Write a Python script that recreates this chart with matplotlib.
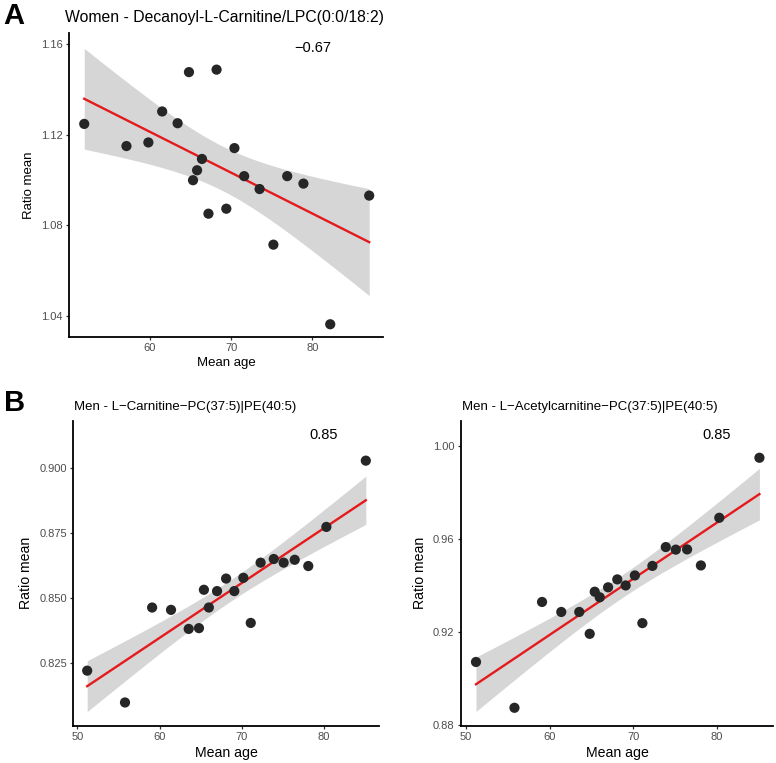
import numpy as np
import matplotlib
matplotlib.use("Agg")
import matplotlib.pyplot as plt

plt.rcParams['font.family'] = ['Liberation Sans', 'DejaVu Sans']

# values
women_age = [51.9, 57.1, 59.8, 61.5, 63.4, 64.8, 68.2, 66.4, 65.8, 65.3,
             70.4, 71.6, 73.5, 76.9, 78.9, 87.0, 67.2, 69.4, 75.2, 82.2]
women_ratio = [1.1248, 1.1150, 1.1166, 1.1303, 1.1251, 1.1477, 1.1488, 1.1093, 1.1043, 1.0999,
               1.1141, 1.1017, 1.0960, 1.1017, 1.0984, 1.0931, 1.0851, 1.0873, 1.0714, 1.0362]

men_age = [51.2, 55.8, 59.1, 61.4, 63.55, 64.8, 65.4, 66.0, 67.0, 68.1,
           69.1, 70.2, 71.1, 72.3, 73.9, 75.1, 76.45, 78.1, 80.3, 85.1]
men_carnitine = [0.8222, 0.8100, 0.8464, 0.8455, 0.8382, 0.8385, 0.8532, 0.8464, 0.8527, 0.8575,
                 0.8527, 0.8578, 0.8405, 0.8636, 0.8650, 0.8636, 0.8647, 0.8623, 0.8773, 0.9027]
men_acetyl = [0.9070, 0.8873, 0.9328, 0.9285, 0.9285, 0.9191, 0.9372, 0.9348, 0.9391, 0.9425,
              0.9399, 0.9442, 0.9237, 0.9483, 0.9564, 0.9553, 0.9554, 0.9485, 0.9690, 0.9948]

W, H = 776, 763
fig = plt.figure(figsize=(W / 100, H / 100), dpi=100)


def px_axes(left, top, right, bottom):
    return fig.add_axes([left / W, 1 - bottom / H, (right - left) / W, (bottom - top) / H])


def smooth_panel(ax, x, y, r_text, r_xy, xlim, ylim, xticks, yticks, yfmt):
    x = np.asarray(x)
    y = np.asarray(y)
    slope, intercept = np.polyfit(x, y, 1)
    grid = np.linspace(x.min(), x.max(), 100)
    fit = intercept + slope * grid
    n = len(x)
    resid = y - (intercept + slope * x)
    s = np.sqrt(np.sum(resid ** 2) / (n - 2))
    sxx = np.sum((x - x.mean()) ** 2)
    se = s * np.sqrt(1 / n + (grid - x.mean()) ** 2 / sxx)
    t = 2.101  # t(0.975, df=18)
    ax.fill_between(grid, fit - t * se, fit + t * se, color='#d6d6d6', lw=0, zorder=1)
    ax.plot(grid, fit, color='#e41a1c', lw=1.7, zorder=2)
    ax.scatter(x, y, s=54, color='#262626', edgecolors='none', zorder=3)
    ax.text(r_xy[0], r_xy[1], r_text, ha='center', va='center', fontsize=10.5, color='black')
    ax.set_xlim(xlim)
    ax.set_ylim(ylim)
    ax.set_xticks(xticks)
    ax.set_yticks(yticks)
    ax.set_yticklabels([yfmt.format(v) for v in yticks])
    for side in ['top', 'right']:
        ax.spines[side].set_visible(False)
    for side in ['left', 'bottom']:
        ax.spines[side].set_linewidth(1.3)
        ax.spines[side].set_color('black')
    ax.tick_params(length=2.5, width=0.9, color='#333333', labelcolor='#4d4d4d',
                   labelsize=8, pad=2)


axA = px_axes(69.3, 33, 383, 336.7)
smooth_panel(axA, women_age, women_ratio, '\u22120.67', (80, 1.1585),
             (50.06, 88.7), (1.0307, 1.165), [60, 70, 80],
             [1.04, 1.08, 1.12, 1.16], '{:.2f}')
fig.text(65 / W, 1 - 17.5 / H, 'Women - Decanoyl-L-Carnitine/LPC(0:0/18:2)',
         fontsize=11.3, ha='left', va='center')
fig.text(226 / W, 1 - 363.3 / H, 'Mean age', fontsize=9.5, ha='center', va='center')
fig.text(29 / W, 1 - 185 / H, 'Ratio mean', fontsize=9.5, ha='center', va='center',
         rotation=90)

axB1 = px_axes(73.3, 421, 379.3, 725.7)
smooth_panel(axB1, men_age, men_carnitine, '0.85', (80, 0.9125),
             (49.51, 86.74), (0.8011, 0.9179), [50, 60, 70, 80],
             [0.825, 0.850, 0.875, 0.900], '{:.3f}')
fig.text(74 / W, 1 - 406.7 / H, 'Men - L\u2212Carnitine\u2212PC(37:5)|PE(40:5)',
         fontsize=9.5, ha='left', va='center')
fig.text(226.3 / W, 1 - 752.7 / H, 'Mean age', fontsize=10.2, ha='center', va='center')
fig.text(26 / W, 1 - 573 / H, 'Ratio mean', fontsize=10.2, ha='center', va='center',
         rotation=90)

axB2 = px_axes(460.7, 421, 773.3, 725.7)
smooth_panel(axB2, men_age, men_acetyl, '0.85', (80, 1.0046),
             (49.37, 86.76), (0.8796, 1.0106), [50, 60, 70, 80],
             [0.88, 0.92, 0.96, 1.00], '{:.2f}')
fig.text(461.7 / W, 1 - 406.7 / H, 'Men - L\u2212Acetylcarnitine\u2212PC(37:5)|PE(40:5)',
         fontsize=9.5, ha='left', va='center')
fig.text(617 / W, 1 - 752.7 / H, 'Mean age', fontsize=10.2, ha='center', va='center')
fig.text(419.5 / W, 1 - 573 / H, 'Ratio mean', fontsize=10.2, ha='center', va='center',
         rotation=90)

fig.text(3 / W, 1 - 16 / H, 'A', fontsize=21, fontweight='bold', ha='left', va='center')
fig.text(4 / W, 1 - 403 / H, 'B', fontsize=21, fontweight='bold', ha='left', va='center')

fig.savefig('out.png', dpi=100)
